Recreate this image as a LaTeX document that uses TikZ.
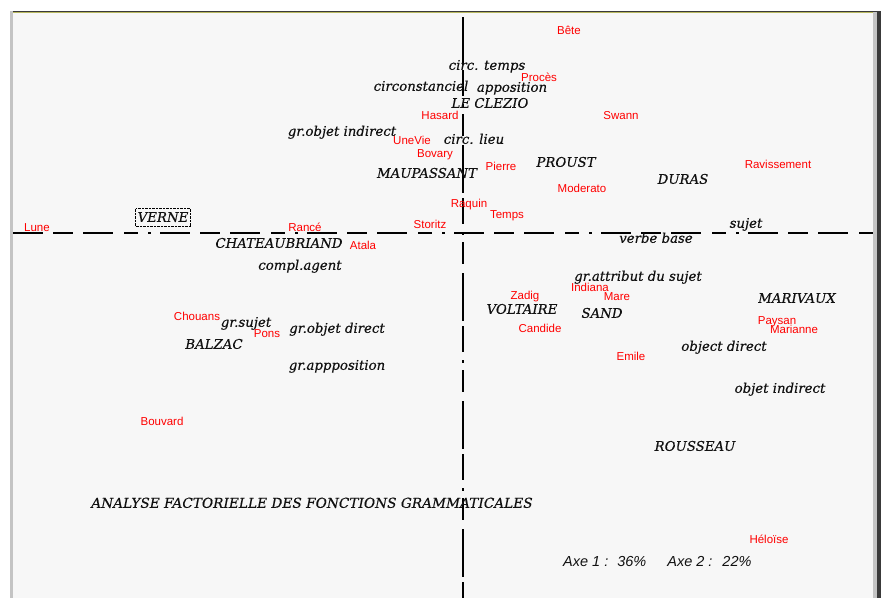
\documentclass[tikz,border=0pt]{standalone}
\usepackage{fontspec}
\setmainfont{DejaVu Serif}[FakeBold=0.35]
\newfontfamily\worksfont{Liberation Sans}
\definecolor{panel}{HTML}{F7F7F7}
\definecolor{ink}{HTML}{111111}
\definecolor{workred}{HTML}{FF0000}
\definecolor{rimlight}{HTML}{C4C4C4}
\definecolor{rimdark}{HTML}{3A3A3A}
\definecolor{rimtop}{HTML}{B8B860}
\begin{document}
\begin{tikzpicture}[x=1pt,y=-1pt,
  term/.style={font=\fontsize{13.3}{14}\selectfont\itshape, text=ink,
    inner sep=0pt, text height=9.6pt, text depth=0pt, anchor=center},
  work/.style={font=\worksfont\fontsize{11.5}{12}\selectfont, text=workred,
    inner sep=0pt, text height=8.2pt, text depth=0pt, anchor=center},
  axisline/.style={line width=1.1pt, black}]
\useasboundingbox (0,0) rectangle (881,598);

% window and frame
\fill[white] (0,0) rectangle (881,598);
\fill[panel] (13,12) rectangle (873,598);
\fill[rimlight] (10,11) rectangle (13,598);
\fill[rimlight] (873,11) rectangle (877,598);
\fill[rimdark] (877,11) rectangle (881,598);
\draw[rimdark, line width=1pt] (13,11.5) -- (877,11.5);
\draw[rimtop, line width=0.8pt] (13,12.6) -- (873,12.6);

% factorial axes
\coordinate (hL) at (13,233);
\coordinate (hR) at (873,233);
\coordinate (vT) at (463,17);
\coordinate (vB) at (463,598);
\draw[axisline, dash pattern=on 30pt off 10pt on 20pt off 10pt on 30pt off 11pt on 14pt off 10pt on 3pt off 9pt]
  (hL) -- (hR);
\draw[axisline, dash pattern=on 48pt off 5pt on 26pt off 8pt on 3pt off 7pt on 22pt off 9pt]
  (vT) -- (vB);

% grammatical functions and authors
\node[term] (circtemps) at (487,65) {circ. temps};
\node[term] (circonst) at (421,86) {circonstanciel};
\node[term] (apposition) at (512,87) {apposition};
\node[term] (leclezio) at (490,103) {LE CLEZIO};
\node[term] (grobjind) at (342,131) {gr.objet indirect};
\node[term] (circlieu) at (474,139) {circ. lieu};
\node[term] (proust) at (566,162) {PROUST};
\node[term] (maupassant) at (427,173) {MAUPASSANT};
\node[term] (duras) at (683,179) {DURAS};
\node[term, draw=black, densely dotted, inner xsep=2pt, inner ysep=4pt] (verne) at (163,217) {VERNE};
\node[term] (sujet) at (746,223) {sujet};
\node[term] (verbebase) at (656,238) {verbe base};
\node[term] (chateau) at (279,243) {CHATEAUBRIAND};
\node[term] (complagent) at (300,265) {compl.agent};
\node[term] (grattr) at (638,276) {gr.attribut du sujet};
\node[term] (marivaux) at (797,298) {MARIVAUX};
\node[term] (voltaire) at (522,309) {VOLTAIRE};
\node[term] (sand) at (602,313) {SAND};
\node[term] (grsujet) at (246,322) {gr.sujet};
\node[term] (grobjdir) at (337,328) {gr.objet direct};
\node[term] (balzac) at (214,344) {BALZAC};
\node[term] (objectdir) at (724,346) {object direct};
\node[term] (grappos) at (337,365) {gr.appposition};
\node[term] (objetind) at (780,388) {objet indirect};
\node[term] (rousseau) at (695,446) {ROUSSEAU};
\node[term, font=\fontsize{13.7}{14}\selectfont\itshape] (titre) at (312,503)
  {ANALYSE FACTORIELLE DES FONCTIONS GRAMMATICALES};

% works
\node[work] (bete) at (569,30) {Bête};
\node[work] (proces) at (539,77) {Procès};
\node[work] (hasard) at (440,115) {Hasard};
\node[work] (swann) at (621,115) {Swann};
\node[work] (unevie) at (412,140) {UneVie};
\node[work] (bovary) at (435,153) {Bovary};
\node[work] (ravissement) at (778,164) {Ravissement};
\node[work] (pierre) at (501,166) {Pierre};
\node[work] (moderato) at (582,188) {Moderato};
\node[work] (raquin) at (469,203) {Raquin};
\node[work] (temps) at (507,214) {Temps};
\node[work] (storitz) at (430,224) {Storitz};
\node[work] (rance) at (305,227) {Rancé};
\node[work] (lune) at (37,227) {Lune};
\node[work] (atala) at (363,245) {Atala};
\node[work] (indiana) at (590,287) {Indiana};
\node[work] (zadig) at (525,295) {Zadig};
\node[work] (mare) at (617,296) {Mare};
\node[work] (chouans) at (197,316) {Chouans};
\node[work] (paysan) at (777,320) {Paysan};
\node[work] (candide) at (540,328) {Candide};
\node[work] (marianne) at (794,329) {Marianne};
\node[work] (pons) at (267,333) {Pons};
\node[work] (emile) at (631,356) {Emile};
\node[work] (bouvard) at (162,421) {Bouvard};
\node[work] (heloise) at (769,539) {Héloïse};

% inertia of the two axes
\node[font=\worksfont\fontsize{14.5}{15}\selectfont\itshape, text=ink, inner sep=0pt,
  text height=10.4pt, text depth=0pt, anchor=west] (inertie) at (563,561)
  {Axe 1 :\hspace{9pt}36\%\hspace{21pt}Axe 2 :\hspace{10pt}22\%};
\end{tikzpicture}
\end{document}
